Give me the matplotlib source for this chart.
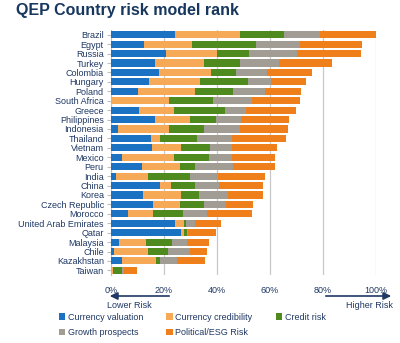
import matplotlib
matplotlib.use("Agg")
import matplotlib.pyplot as plt
import numpy as np

plt.rcParams['font.family'] = ['Liberation Sans', 'DejaVu Sans']

countries = ["Brazil", "Egypt", "Russia", "Turkey", "Colombia", "Hungary", "Poland",
             "South Africa", "Greece", "Philippines", "Indonesia", "Thailand", "Vietnam",
             "Mexico", "Peru", "India", "China", "Korea", "Czech Republic", "Morocco",
             "United Arab Emirates", "Qatar", "Malaysia", "Chile", "Kazakhstan", "Taiwan"]

currency_valuation = [24.3, 12.6, 20.8, 16.7, 18.0, 14.5, 10.4, 0.0, 10.8, 16.7, 2.6, 15.2, 15.5,
                      4.2, 11.7, 2.0, 18.7, 12.3, 16.0, 6.4, 24.3, 26.5, 3.1, 1.3, 4.4, 0.0]
currency_credibility = [24.5, 18.2, 19.2, 18.5, 19.9, 19.0, 21.4, 21.8, 13.0, 13.0, 19.4, 3.4, 11.0,
                        19.7, 14.6, 12.0, 4.1, 14.1, 10.0, 9.7, 3.4, 1.3, 10.0, 12.9, 12.7, 0.9]
credit_risk = [16.6, 23.9, 12.3, 13.4, 9.4, 18.1, 14.5, 16.9, 19.3, 10.0, 13.0, 13.9, 11.1,
               13.0, 5.5, 15.7, 9.0, 6.8, 9.1, 11.2, 0.7, 1.0, 9.9, 7.3, 1.5, 3.4]
growth_prospects = [13.6, 16.7, 17.9, 15.0, 11.6, 8.8, 11.7, 14.5, 7.8, 9.4, 13.8, 13.4, 8.1,
                    8.9, 14.5, 10.6, 9.1, 11.2, 8.3, 8.9, 3.4, 0.3, 5.7, 8.4, 6.3, 0.7]
political_esg = [21.0, 23.3, 24.3, 19.7, 17.1, 13.2, 13.8, 18.2, 19.0, 18.2, 18.2, 20.1, 16.9,
                 16.2, 15.6, 17.9, 16.7, 13.2, 10.4, 17.1, 9.8, 10.5, 8.5, 6.3, 10.6, 4.9]

series = [("Currency valuation", currency_valuation, "#1B72C2"),
          ("Currency credibility", currency_credibility, "#F6A957"),
          ("Credit risk", credit_risk, "#4F8A1F"),
          ("Growth prospects", growth_prospects, "#A19D95"),
          ("Political/ESG Risk", political_esg, "#EE7F1B")]

navy = "#1F3864"

fig = plt.figure(figsize=(4.0, 3.43), dpi=100)
ax = fig.add_axes([0.277, 0.198, 0.6625, 0.7145])

y = np.arange(len(countries))
left = np.zeros(len(countries))
handles = []
for name, vals, col in series:
    vals = np.array(vals)
    b = ax.barh(y, vals, left=left, height=0.75, color=col, label=name, zorder=3)
    handles.append(b)
    left += vals

ax.set_ylim(len(countries) - 0.5, -0.5)
ax.set_xlim(0, 100)
ax.set_xticks([0, 20, 40, 60, 80, 100])
ax.set_xticklabels(["0%", "20%", "40%", "60%", "80%", "100%"], fontsize=6.5, color=navy)
ax.set_yticks(y)
ax.set_yticklabels(countries, fontsize=6.5, color=navy)
ax.grid(axis="x", color="#C8C8C8", linewidth=0.9, zorder=0)
for s in ["top", "right", "bottom"]:
    ax.spines[s].set_visible(False)
ax.spines["left"].set_color("#BFBFBF")
ax.tick_params(axis="y", length=3, color="#BFBFBF", pad=2)
ax.tick_params(axis="x", length=0, pad=8)

fig.text(0.04, 0.968, "QEP Country risk model rank", fontsize=11.5, fontweight="bold",
         color="#17375E", va="center", ha="left")

# risk arrows below the axis
fig.add_artist(matplotlib.patches.FancyArrowPatch((172 / 400, 1 - 296 / 343), (107 / 400, 1 - 296 / 343),
                                                  transform=fig.transFigure, arrowstyle="-|>,head_length=4.5,head_width=2.2",
                                                  color=navy, linewidth=1.2))
fig.add_artist(matplotlib.patches.FancyArrowPatch((323 / 400, 1 - 296 / 343), (394 / 400, 1 - 296 / 343),
                                                  transform=fig.transFigure, arrowstyle="-|>,head_length=4.5,head_width=2.2",
                                                  color=navy, linewidth=1.2))
fig.text(107 / 400, 1 - 305 / 343, "Lower Risk", fontsize=6.5, color=navy, ha="left", va="center")
fig.text(393 / 400, 1 - 305 / 343, "Higher Risk", fontsize=6.5, color=navy, ha="right", va="center")

order = [0, 3, 1, 4, 2]
leg = fig.legend([handles[i] for i in order], [series[i][0] for i in order],
                 ncol=3, loc="upper left", bbox_to_anchor=(0.135, 1 - 308 / 343),
                 frameon=False, fontsize=6.5, handlelength=0.7, handleheight=0.7,
                 handletextpad=0.3, columnspacing=2.6, labelspacing=0.75, borderpad=0)
for t in leg.get_texts():
    t.set_color(navy)

fig.savefig("out.png", dpi=100)
